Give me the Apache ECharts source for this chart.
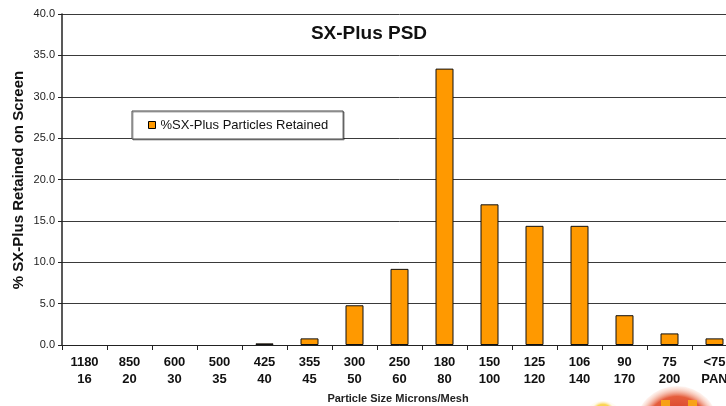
<!DOCTYPE html>
<html>
<head>
<meta charset="utf-8">
<script src="https://cdn.jsdelivr.net/npm/echarts@6/dist/echarts.min.js"></script>
<style>
html,body{margin:0;padding:0;background:#fff;overflow:hidden;width:726px;height:406px;}
#c{width:760px;height:406px;}
</style>
</head>
<body>
<div id="c"></div>
<script>
var microns = ['1180','850','600','500','425','355','300','250','180','150','125','106','90','75','<75'];
var mesh = ['16','20','30','35','40','45','50','60','80','100','120','140','170','200','PAN'];
var retained = [0, 0, 0, 0, 0.2, 0.8, 4.8, 9.2, 33.4, 17.0, 14.4, 14.4, 3.6, 1.4, 0.8];
var yTicks = [0, 5, 10, 15, 20, 25, 30, 35, 40];

var categories = microns.map(function(m, i){ return m + '\n' + mesh[i]; });
var barData = retained.map(function(v){ return v === 0 ? null : v; });
var FONT = '"Liberation Sans", Arial, sans-serif';

var chart = echarts.init(document.getElementById('c'), null, {renderer:'canvas'});
chart.setOption({
  animation: false,
  backgroundColor: '#fff',
  grid: {left: 62, top: 14, width: 675, height: 331, containLabel: false},
  legend: {
    left: 132, top: 111,
    orient: 'horizontal',
    padding: [7, 15, 7, 16],
    itemWidth: 7, itemHeight: 7,
    backgroundColor: '#fff',
    borderColor: '#444', borderWidth: 1,
    shadowColor: 'rgba(0,0,0,0.35)', shadowOffsetX: 1, shadowOffsetY: 1, shadowBlur: 0,
    icon: 'rect',
    textStyle: {fontFamily: FONT, fontSize: 13, color: '#111', lineHeight: 14, padding: 0},
    data: [{name: '%SX-Plus Particles Retained', itemStyle: {color: '#FF9900', borderColor: '#000', borderWidth: 1}}]
  },
  xAxis: {
    type: 'category',
    data: categories,
    axisLine: {show: true, lineStyle: {color: '#222', width: 1}},
    axisTick: {show: true, alignWithLabel: false, length: 5, lineStyle: {color: '#222'}},
    axisLabel: {fontFamily: FONT, fontSize: 13, fontWeight: 'bold', color: '#111', lineHeight: 17, margin: 9, interval: 0},
    splitLine: {show: false}
  },
  yAxis: {
    type: 'value',
    min: 0, max: 40, interval: 5,
    axisLine: {show: true, lineStyle: {color: '#222', width: 1.5}},
    axisTick: {show: true, length: 4, lineStyle: {color: '#222'}},
    axisLabel: {fontFamily: FONT, fontSize: 11, color: '#222', margin: 7,
      formatter: function(v){ return yTicks.indexOf(v) >= 0 ? v.toFixed(1) : ''; }},
    splitLine: {show: true, lineStyle: {color: '#3a3a3a', width: 1}}
  },
  series: [{
    name: '%SX-Plus Particles Retained',
    type: 'bar',
    data: barData,
    barWidth: 18,
    itemStyle: {color: '#FF9900', borderColor: '#111', borderWidth: 1}
  }],
  graphic: [
    {type: 'circle', silent: true, z: 0, shape: {cx: 677, cy: 428, r: 42},
      style: {fill: {type: 'radial', x: 0.5, y: 0.5, r: 0.5, colorStops: [
        {offset: 0, color: 'rgba(200,35,20,1)'},
        {offset: 0.75, color: 'rgba(228,85,50,0.95)'},
        {offset: 1, color: 'rgba(250,200,180,0.2)'}]}}},
    {type: 'rect', silent: true, z: 0, shape: {x: 661, y: 400, width: 9, height: 6},
      style: {fill: 'rgba(250,170,20,0.9)'}},
    {type: 'rect', silent: true, z: 0, shape: {x: 688, y: 400, width: 9, height: 6},
      style: {fill: 'rgba(250,170,20,0.9)'}},
    {type: 'ellipse', silent: true, z: 0, shape: {cx: 603, cy: 414, rx: 17, ry: 13},
      style: {fill: {type: 'radial', x: 0.5, y: 0.5, r: 0.5, colorStops: [
        {offset: 0, color: 'rgba(245,195,30,1)'},
        {offset: 0.75, color: 'rgba(250,210,70,0.9)'},
        {offset: 1, color: 'rgba(255,240,190,0.2)'}]}}},
    {type: 'text', x: 369, y: 34, silent: true,
      style: {text: 'SX-Plus PSD', font: 'bold 19px ' + FONT, fill: '#111', textAlign: 'center', textVerticalAlign: 'middle'}},
    {type: 'text', x: 19, y: 180, rotation: Math.PI / 2, silent: true,
      style: {text: '% SX-Plus Retained on Screen', font: 'bold 15px ' + FONT, fill: '#111', textAlign: 'center', textVerticalAlign: 'middle'}},
    {type: 'text', x: 398, y: 399, silent: true,
      style: {text: 'Particle Size Microns/Mesh', font: 'bold 11px ' + FONT, fill: '#222', textAlign: 'center', textVerticalAlign: 'middle'}}
  ]
});
</script>
</body>
</html>
